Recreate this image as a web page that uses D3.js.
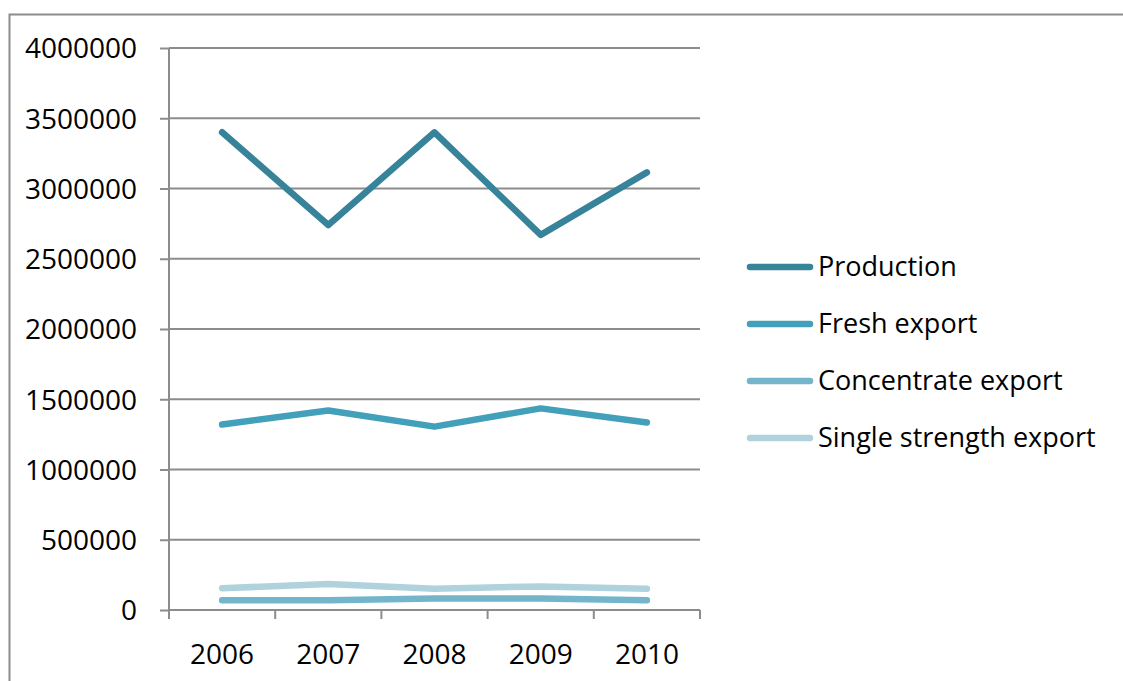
<!DOCTYPE html>
<html><head><meta charset="utf-8">
<script src="https://cdn.jsdelivr.net/npm/d3@7"></script>
<style>
html,body{margin:0;padding:0;background:#fff;overflow:hidden;}
text{font-family:"Open Sans",sans-serif;fill:#000;}
</style></head>
<body>
<svg id="chart" width="1123" height="681"></svg>
<script>
const years = ["2006","2007","2008","2009","2010"];
const production = [3400000, 2740000, 3400000, 2670000, 3115000];
const freshExport = [1320000, 1420000, 1305000, 1435000, 1335000];
const concentrateExport = [70000, 70000, 82000, 82000, 70000];
const singleStrengthExport = [155000, 185000, 152000, 168000, 152000];
const yTicks = [0, 500000, 1000000, 1500000, 2000000, 2500000, 3000000, 3500000, 4000000];
const seriesNames = ["Production","Fresh export","Concentrate export","Single strength export"];
const seriesColors = ["#37849A","#43A0BA","#74B5CB","#B0D2DD"];
const seriesData = [production, freshExport, concentrateExport, singleStrengthExport];

(function(){
const svg = d3.select("#chart");
const pLeft = 169, pRight = 700, pTop = 48, pBottom = 610;

svg.append("rect").attr("x",9.5).attr("y",14.5).attr("width",1200).attr("height",800)
  .attr("fill","#fff").attr("stroke","#8c8c8c").attr("stroke-width",2);

const x = d3.scaleBand().domain(years).range([pLeft, pRight]).padding(0);
const y = d3.scaleLinear().domain([0, 4000000]).range([pBottom, pTop]);

svg.append("g").selectAll("line").data(yTicks.filter(d=>d>0)).join("line")
  .attr("x1", pLeft).attr("x2", pRight)
  .attr("y1", d=>y(d)).attr("y2", d=>y(d))
  .attr("stroke","#8c8c8c").attr("stroke-width",2);

const yAxis = svg.append("g").attr("transform",`translate(${pLeft},0)`)
  .call(d3.axisLeft(y).tickValues(yTicks).tickSize(9).tickPadding(23).tickFormat(d3.format("d")));
yAxis.select(".domain").attr("stroke","#8c8c8c").attr("stroke-width",2).attr("d",`M0,${pBottom}V${pTop}`);
yAxis.selectAll(".tick line").attr("stroke","#8c8c8c").attr("stroke-width",2);
yAxis.selectAll("text").style("font-size","28px").attr("dy","0.35em");

const xAxis = svg.append("g").attr("transform",`translate(0,${pBottom})`)
  .call(d3.axisBottom(x).tickSize(0).tickPadding(34));
xAxis.select(".domain").attr("stroke","#8c8c8c").attr("stroke-width",2).attr("d",`M${pLeft},0H${pRight}`);
xAxis.selectAll("text").style("font-size","28px");
const bounds = years.map(d=>x(d)).concat([pRight]);
xAxis.append("g").selectAll("line").data(bounds).join("line")
  .attr("x1",d=>d).attr("x2",d=>d).attr("y1",0).attr("y2",9)
  .attr("stroke","#8c8c8c").attr("stroke-width",2);

const line = d3.line().x((d,i)=>x(years[i]) + x.bandwidth()/2).y(d=>y(d));

for (let s = seriesData.length-1; s>=0; s--) {
  svg.append("path").datum(seriesData[s])
    .attr("d", line).attr("fill","none")
    .attr("stroke", seriesColors[s]).attr("stroke-width",6.5)
    .attr("stroke-linecap","round").attr("stroke-linejoin","round");
}

const lg = svg.append("g");
seriesNames.forEach((n,i)=>{
  const ly = 267 + i*57;
  lg.append("line").attr("x1",750).attr("x2",810).attr("y1",ly).attr("y2",ly)
    .attr("stroke",seriesColors[i]).attr("stroke-width",6.5).attr("stroke-linecap","round");
  lg.append("text").attr("x",818).attr("y",ly).attr("dy","0.35em")
    .style("font-size","27px").text(n);
});
})();
</script>
</body></html>
